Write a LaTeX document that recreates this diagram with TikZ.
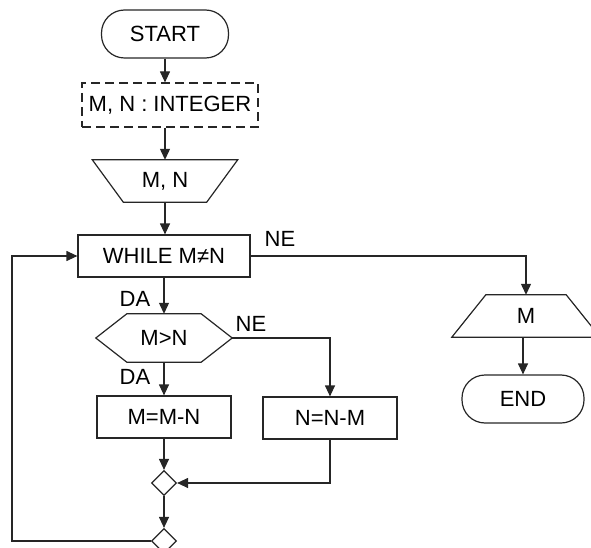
\documentclass[tikz,border=0pt]{standalone}
\usepackage{fontspec}
\setmainfont{Liberation Sans}
\usetikzlibrary{shapes.geometric,arrows.meta}
\begin{document}
\begin{tikzpicture}[x=1pt,y=-1pt,
  every node/.style={font=\fontsize{22}{26}\selectfont, inner sep=0pt},
  ln/.style={line width=1.2pt, draw=black!85},
  arr/.style={ln, -{Triangle[length=11pt,width=10pt]}},
  pill/.style={ln, draw, rectangle, rounded corners=23pt, minimum height=48pt},
  box/.style={ln, draw, rectangle, minimum height=42pt},
  ghost/.style={rectangle, draw=none},
  dia/.style={ln, draw, diamond, minimum width=25pt, minimum height=25pt, inner sep=0pt},
  lbl/.style={font=\fontsize{22}{26}\selectfont}]
\useasboundingbox (0,0) rectangle (591,548);
% nodes
\node[pill, minimum width=127pt] (start) at (165,34) {START};
\node[box, dashed, dash pattern=on 9pt off 5pt, minimum width=176pt, minimum height=44pt] (decl) at (170,105) {M, N : INTEGER};
\node[ghost, minimum width=145pt, minimum height=42pt] (inp) at (165,181) {M, N};
\draw[ln] (inp.north west) -- (inp.north east) -- ([xshift=-31pt]inp.south east) -- ([xshift=31pt]inp.south west) -- cycle;
\node[box, minimum width=172pt] (while) at (164,256) {WHILE M≠N};
\node[ghost, minimum width=136pt, minimum height=48pt] (hex) at (164,338) {M>N};
\draw[ln] (hex.west) -- ([xshift=31pt]hex.north west) -- ([xshift=-31pt]hex.north east) -- (hex.east) -- ([xshift=-31pt]hex.south east) -- ([xshift=31pt]hex.south west) -- cycle;
\node[box, minimum width=134pt] (mmn) at (164,417) {M=M-N};
\node[box, minimum width=134pt] (nnm) at (330,418) {N=N-M};
\node[dia] (j1) at (164,483) {};
\node[dia] (j2) at (164,541) {};
\node[ghost, minimum width=148pt, minimum height=42pt] (out) at (526,316) {M};
\draw[ln] ([xshift=34pt]out.north west) -- ([xshift=-34pt]out.north east) -- (out.south east) -- (out.south west) -- cycle;
\node[pill, minimum width=122pt] (end) at (523,399) {END};
\coordinate (fbl) at (12,541);
% connectors
\draw[arr] (start.south) -- (start.south |- decl.north);
\draw[arr] (start.south |- decl.south) -- (inp.north);
\draw[arr] (inp.south) -- (inp.south |- while.north);
\draw[arr] (while.south) -- (hex.north);
\draw[arr] (hex.south) -- (mmn.north);
\draw[arr] (hex.east) -| (nnm.north);
\draw[arr] (mmn.south) -- (j1.north);
\draw[arr] (nnm.south) |- (j1.east);
\draw[arr] (j1.south) -- (j2.north);
\draw[arr] (j2.west) -- (fbl) |- (while.west);
\draw[arr] (while.east) -| (out.north);
\draw[arr] (out.south -| end.north) -- (end.north);
% labels
\node[lbl] (ne1) at (280,239) {NE};
\node[lbl] (da1) at (135,299) {DA};
\node[lbl] (ne2) at (251,324) {NE};
\node[lbl] (da2) at (135,377) {DA};
\end{tikzpicture}
\end{document}
